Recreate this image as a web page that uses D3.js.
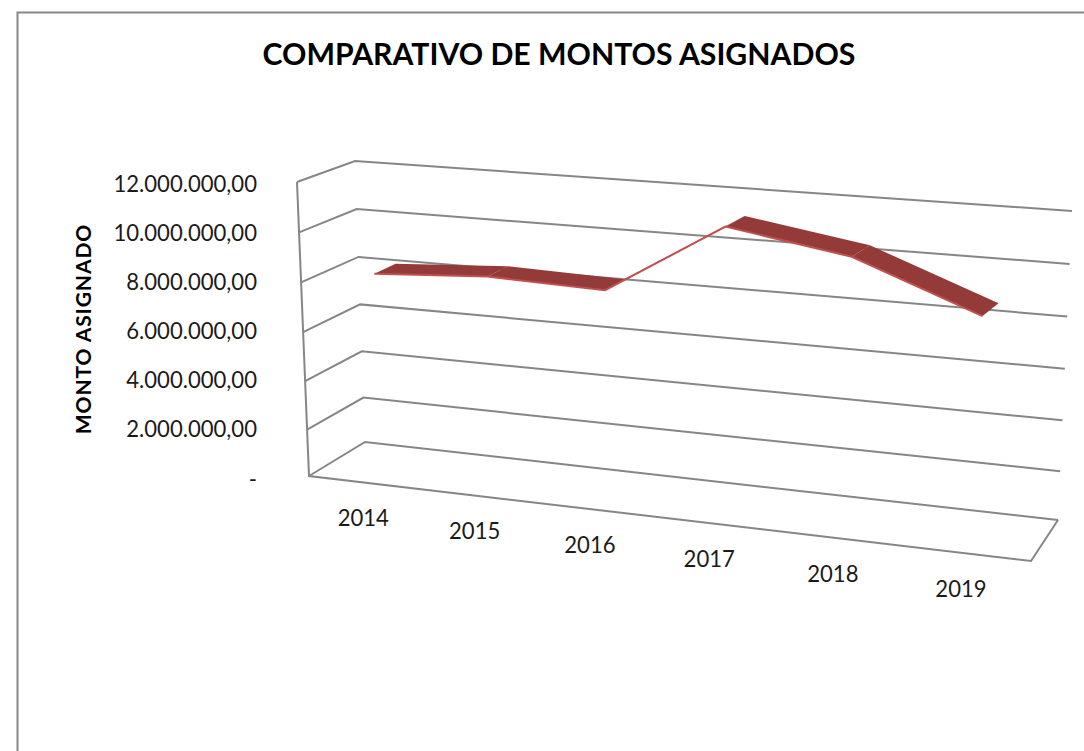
<!DOCTYPE html>
<html lang="es">
<head>
  <meta charset="UTF-8">
  <title>Comparativo de montos asignados</title>
  <style>
    html, body { margin: 0; padding: 0; background: #fff; }
    svg { display: block; }
    text { font-family: Lato, "Open Sans", sans-serif; fill: #1a1a1a; }
  </style>
</head>
<body>
  <svg id="svg" width="1084" height="751"></svg>
  <script src="https://d3js.org/d3.v7.min.js"></script>
  <script>
    const years = ["2014", "2015", "2016", "2017", "2018", "2019"]
    const amounts = [8250000, 8550000, 8430000, 11300000, 10550000, 8740000]
    const tickValues = [0, 2000000, 4000000, 6000000, 8000000, 10000000, 12000000]
    const titleText = "COMPARATIVO DE MONTOS ASIGNADOS"
    const axisText = "MONTO ASIGNADO"

    const svg = d3.select("#svg")
    const maxValue = 12000000

    // es number format, zero is shown as a dash
    const esFormat = d3.formatLocale({ decimal: ",", thousands: ".", grouping: [3], currency: ["", ""] }).format(",.2f")
    const tickLabel = d => d === 0 ? "-" : esFormat(d)

    // bilinear map of the unit square onto a quad (front-left, front-right, back-right, back-left)
    function quadMap(p0, p1, p2, p3) {
      return (u, w) => {
        const front = d3.interpolate(p0, p1)(u)
        const back = d3.interpolate(p3, p2)(u)
        return d3.interpolate(front, back)(w)
      }
    }

    const floorMap = quadMap([309, 476], [1031, 561], [1058, 520], [365, 442])
    const topMap = quadMap([297, 182], [1026, 243], [1072, 211], [355, 161])
    const valueScale = d3.scalePow().exponent(1.03).domain([0, maxValue]).range([0, 1])

    function project(u, w, v) {
      const f = floorMap(u, w), t = topMap(u, w), k = valueScale(v)
      return [f[0] + (t[0] - f[0]) * k, f[1] + (t[1] - f[1]) * k]
    }

    // category position along the floor, slightly wider to the right
    const yearScale = d3.scalePoint().domain(years).range([0, 1])
    const warp = t => t / (1 + 0.09 * (1 - t))
    const alongScale = d3.scaleLinear().domain([0, 1]).range([0.078, 0.921])
    const uOf = year => alongScale(warp(yearScale(year)))
    const wFront = 0.3
    const wBack = 0.68

    const lineGen = d3.line()

    // Chart frame
    svg.append("path")
      .attr("d", lineGen([[17.5, 760], [17.5, 12.5], [1090, 12.5]]))
      .attr("fill", "none")
      .attr("stroke", "#868686")
      .attr("stroke-width", 2)

    // Title
    svg.append("text")
      .text(titleText)
      .attr("x", 559)
      .attr("y", 65)
      .attr("text-anchor", "middle")
      .attr("font-size", 30.2)
      .attr("font-weight", 700)
      .style("fill", "#000")

    // Gridlines: side wall then back wall
    const grid = svg.append("g")
      .attr("fill", "none")
      .attr("stroke", "#868686")
      .attr("stroke-width", 2)

    grid.selectAll("path.grid")
      .data(tickValues)
      .enter()
      .append("path")
      .attr("class", "grid")
      .attr("d", v => lineGen([project(0, 0, v), project(0, 1, v), project(1, 1, v)]))

    // Front vertical and floor edges
    grid.append("path").attr("d", lineGen([project(0, 0, maxValue), project(0, 0, 0), project(1, 0, 0), project(1, 1, 0)]))

    // Value labels, placed with the front edge's scale
    const yFront = d3.scaleLinear().domain([0, maxValue]).range([479, 184])
    const yAxis = svg.append("g")
      .attr("transform", "translate(257,0)")
      .call(d3.axisLeft(yFront).tickValues(tickValues).tickFormat(tickLabel).tickSize(0).tickPadding(0))
    yAxis.select(".domain").remove()
    yAxis.selectAll("text")
      .attr("font-family", null)
      .attr("font-size", 22.1)

    // Axis title
    svg.append("text")
      .text(axisText)
      .attr("transform", "translate(91,329) rotate(-90)")
      .attr("text-anchor", "middle")
      .attr("font-size", 21)
      .attr("font-weight", 700)
      .attr("letter-spacing", 0.9)
      .style("fill", "#000")

    // Year labels
    const labelShift = d3.scaleLinear().domain([0, 1]).range([-2, -13])
    svg.selectAll("text.year")
      .data(years)
      .enter()
      .append("text")
      .attr("class", "year")
      .text(d => d)
      .attr("x", d => project(uOf(d), 0, 0)[0] + labelShift(yearScale(d)))
      .attr("y", d => project(uOf(d), 0, 0)[1] + 43)
      .attr("text-anchor", "middle")
      .attr("font-size", 22.1)

    // Ribbon, one quad per segment
    const segments = d3.pairs(years.map((y, i) => ({ u: uOf(y), v: amounts[i] })))
    svg.selectAll("path.ribbon")
      .data(segments)
      .enter()
      .append("path")
      .attr("class", "ribbon")
      .attr("d", ([a, b]) => lineGen([
        project(a.u, wFront, a.v), project(a.u, wBack, a.v),
        project(b.u, wBack, b.v), project(b.u, wFront, b.v)
      ]) + "Z")
      .attr("fill", ([a, b]) => b.v > a.v + 1000000 ? "#c0504d" : "#943a38")

    // Lighter front edge
    svg.append("path")
      .attr("d", lineGen(years.map((y, i) => project(uOf(y), wFront, amounts[i]))))
      .attr("fill", "none")
      .attr("stroke", "#c0504d")
      .attr("stroke-width", 2)
  </script>
</body>
</html>
